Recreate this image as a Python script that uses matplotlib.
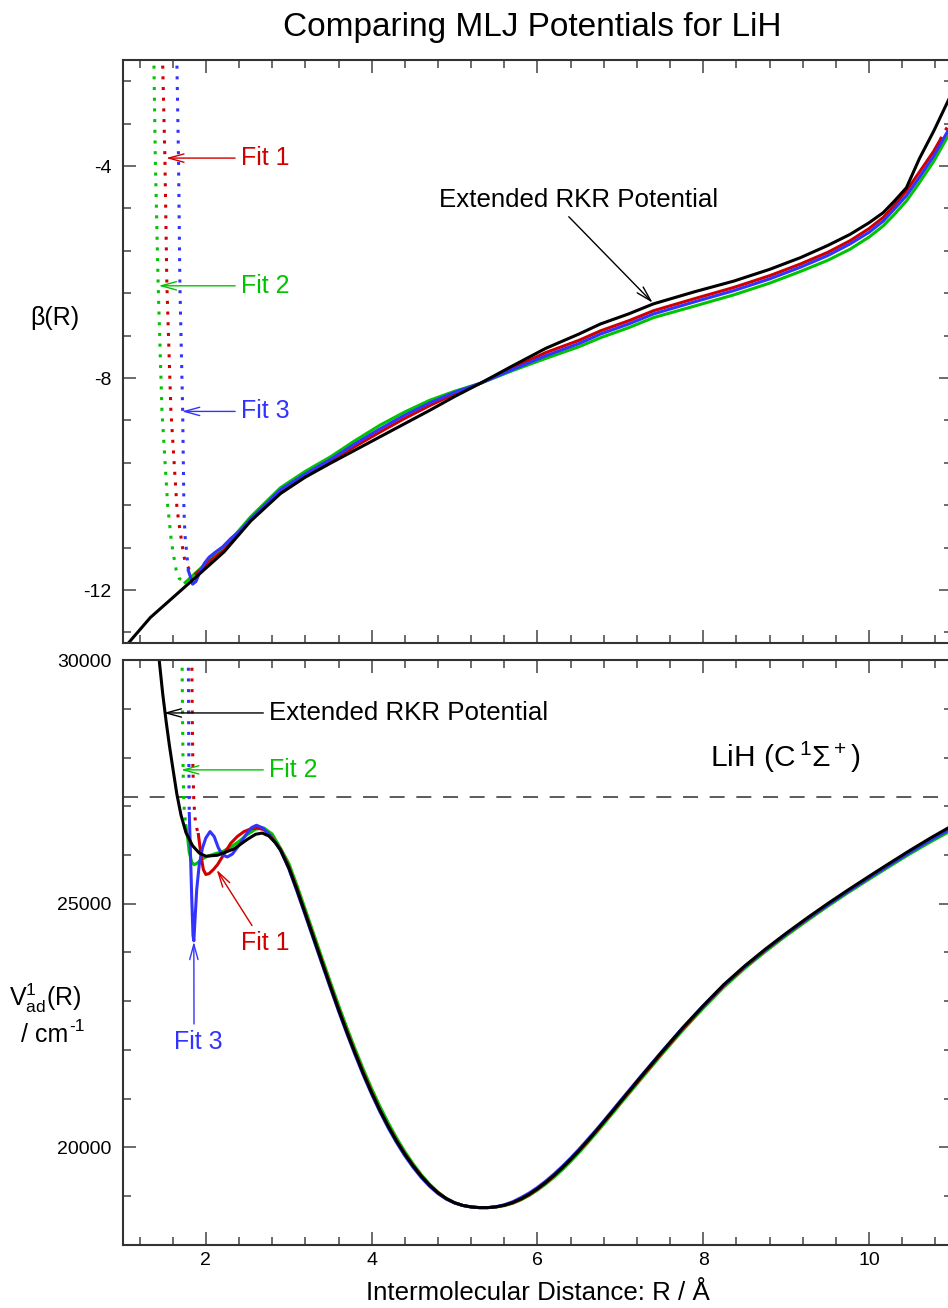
import matplotlib.pyplot as plt
from matplotlib.ticker import MultipleLocator, FormatStrFormatter

plt.rcParams['font.family'] = ['Liberation Sans', 'DejaVu Sans']
plt.rcParams['mathtext.fontset'] = 'custom'
plt.rcParams['mathtext.rm'] = 'Liberation Sans'
plt.rcParams['mathtext.it'] = 'Liberation Sans:italic'
plt.rcParams['mathtext.default'] = 'regular'
plt.rcParams['axes.unicode_minus'] = False

RED = '#d00000'
GREEN = '#00c400'
BLUE = '#3333ff'

# ---- beta(R) exponent function (upper panel) ----
R_rkr_beta = [1.0, 1.33, 1.82, 2.22, 2.54, 2.9, 3.2, 3.5, 3.8, 4.1, 4.4, 4.7, 5.0, 5.31, 5.7, 6.1,
              6.5, 6.76, 7.1, 7.4, 7.9, 8.37, 8.8, 9.17, 9.5, 9.77, 10.0, 10.17, 10.3, 10.45,
              10.61, 10.78, 10.95, 11.0]
beta_rkr = [-13.12, -12.52, -11.84, -11.28, -10.70, -10.18, -9.87, -9.61, -9.36, -9.11, -8.86,
            -8.61, -8.35, -8.10, -7.77, -7.44, -7.17, -6.98, -6.79, -6.60, -6.37, -6.17, -5.95,
            -5.73, -5.50, -5.29, -5.07, -4.88, -4.67, -4.41, -3.85, -3.34, -2.78, -2.62]

R_fit1_beta = [1.88, 1.95, 2.05, 2.22, 2.54, 2.9, 3.2, 3.5, 3.8, 4.1, 4.4, 4.7, 5.0, 5.31, 5.7,
               6.1, 6.5, 6.76, 7.1, 7.4, 7.9, 8.37, 8.8, 9.17, 9.5, 9.77, 10.0, 10.17, 10.3,
               10.45, 10.6, 10.78, 10.86]
beta_fit1 = [-11.69, -11.60, -11.45, -11.25, -10.68, -10.15, -9.85, -9.585, -9.29, -9.02, -8.76,
             -8.52, -8.30, -8.10, -7.81, -7.52, -7.29, -7.11, -6.92, -6.73, -6.50, -6.29, -6.07,
             -5.85, -5.63, -5.41, -5.18, -4.97, -4.75, -4.47, -4.13, -3.72, -3.50]
R_fit1_beta_sr = [1.475, 1.478, 1.506, 1.53, 1.578, 1.65, 1.67, 1.70, 1.715, 1.73, 1.75, 1.80, 1.88]
beta_fit1_sr = [-1.5, -2.0, -3.85, -6.26, -8.61, -10.42, -10.68, -11.0, -11.16, -11.31, -11.47,
                -11.61, -11.69]
R_fit1_beta_lr = [10.86, 10.93, 11.0]
beta_fit1_lr = [-3.50, -3.30, -3.12]

R_fit2_beta = [1.75, 1.82, 1.95, 2.1, 2.22, 2.54, 2.9, 3.2, 3.5, 3.8, 4.1, 4.4, 4.7, 5.0, 5.31,
               5.7, 6.1, 6.5, 6.76, 7.1, 7.4, 7.9, 8.37, 8.8, 9.17, 9.5, 9.77, 10.0, 10.17, 10.3,
               10.45, 10.6, 10.78, 10.95, 11.0]
beta_fit2 = [-11.86, -11.76, -11.57, -11.36, -11.20, -10.62, -10.07, -9.76, -9.49, -9.18, -8.89,
             -8.64, -8.42, -8.25, -8.10, -7.86, -7.63, -7.41, -7.24, -7.05, -6.86, -6.64, -6.43,
             -6.21, -5.99, -5.78, -5.57, -5.34, -5.13, -4.92, -4.66, -4.33, -3.91, -3.44, -3.30]
R_fit2_beta_sr = [1.37, 1.373, 1.39, 1.425, 1.47, 1.54, 1.558, 1.578, 1.606, 1.642, 1.678, 1.75]
beta_fit2_sr = [-1.5, -2.0, -3.85, -6.26, -8.61, -10.42, -10.68, -11.0, -11.31, -11.62, -11.78,
                -11.86]

R_fit3_beta = [1.79, 1.82, 1.84, 1.88, 1.92, 1.98, 2.04, 2.12, 2.20, 2.30, 2.42, 2.54, 2.9, 3.2,
               3.5, 3.8, 4.1, 4.4, 4.7, 5.0, 5.31, 5.7, 6.1, 6.5, 6.76, 7.1, 7.4, 7.9, 8.37, 8.8,
               9.17, 9.5, 9.77, 10.0, 10.17, 10.3, 10.45, 10.6, 10.78, 10.95, 11.0]
beta_fit3 = [-11.64, -11.78, -11.89, -11.84, -11.69, -11.50, -11.38, -11.28, -11.19, -11.03,
             -10.87, -10.66, -10.11, -9.81, -9.54, -9.24, -8.96, -8.70, -8.47, -8.27, -8.10,
             -7.84, -7.58, -7.35, -7.17, -6.98, -6.79, -6.56, -6.35, -6.13, -5.91, -5.69, -5.47,
             -5.25, -5.04, -4.82, -4.56, -4.23, -3.81, -3.34, -3.20]
R_fit3_beta_sr = [1.648, 1.65, 1.67, 1.687, 1.72, 1.735, 1.74, 1.75, 1.77, 1.78, 1.79]
beta_fit3_sr = [-1.5, -2.0, -3.85, -6.26, -8.61, -10.42, -10.68, -11.0, -11.31, -11.48, -11.64]

# ---- V_ad(R) potentials (lower panel), cm-1 ----
R_rkr_wall = [1.40, 1.44, 1.48, 1.52, 1.56, 1.60, 1.65, 1.70, 1.76, 1.84, 1.92, 2.00, 2.14, 2.34,
              2.50, 2.60, 2.68, 2.76, 2.84]
V_rkr_wall = [30750, 29950, 29300, 28750, 28250, 27800, 27250, 26820, 26460, 26190, 26040, 25975,
              25995, 26125, 26320, 26425, 26450, 26390, 26250]

R_tail = [2.9, 3.0, 3.1, 3.2, 3.3, 3.4, 3.5, 3.6, 3.7, 3.8, 3.9, 4.0, 4.1, 4.2, 4.3, 4.4, 4.5,
          4.6, 4.7, 4.8, 4.9, 5.0, 5.1, 5.2, 5.3, 5.4, 5.5, 5.6, 5.7, 5.8, 5.9, 6.0, 6.1, 6.2,
          6.3, 6.4, 6.5, 6.6, 6.7, 6.8, 6.9, 7.0, 7.25, 7.5, 7.75, 8.0, 8.25, 8.5, 8.75, 9.0,
          9.25, 9.5, 9.75, 10.0, 10.25, 10.5, 10.75, 11.0]
V_rkr_tail = [26100, 25740, 25280, 24790, 24295, 23800, 23310, 22830, 22370, 21930, 21510, 21120,
              20760, 20430, 20130, 19860, 19620, 19405, 19220, 19068, 18950, 18865, 18810, 18780,
              18766, 18766, 18782, 18815, 18870, 18945, 19040, 19155, 19285, 19430, 19588, 19758,
              19938, 20128, 20325, 20527, 20732, 20939, 21454, 21959, 22449, 22909, 23344, 23724,
              24070, 24395, 24705, 25002, 25287, 25563, 25835, 26102, 26358, 26600]
V_fit1_tail = [26120, 25760, 25300, 24810, 24315, 23820, 23330, 22850, 22390, 21950, 21530, 21140,
               20770, 20440, 20140, 19870, 19630, 19415, 19230, 19078, 18950, 18865, 18810, 18780,
               18766, 18766, 18782, 18815, 18860, 18935, 19030, 19145, 19275, 19420, 19578, 19748,
               19928, 20118, 20315, 20517, 20722, 20929, 21434, 21939, 22429, 22889, 23324, 23704,
               24050, 24375, 24680, 24977, 25262, 25538, 25805, 26072, 26328, 26565]
V_fit2_tail = [26140, 25830, 25370, 24880, 24385, 23890, 23400, 22920, 22460, 22020, 21600, 21205,
               20840, 20505, 20195, 19915, 19665, 19440, 19245, 19083, 18958, 18868, 18810, 18780,
               18766, 18766, 18777, 18805, 18855, 18925, 19015, 19125, 19250, 19390, 19543, 19713,
               19893, 20083, 20280, 20482, 20687, 20894, 21404, 21909, 22399, 22859, 23294, 23674,
               24020, 24345, 24650, 24947, 25232, 25503, 25770, 26032, 26278, 26510]
V_fit3_tail = [26100, 25720, 25250, 24760, 24265, 23770, 23280, 22800, 22340, 21900, 21480, 21090,
               20730, 20400, 20100, 19830, 19590, 19380, 19200, 19053, 18940, 18860, 18810, 18780,
               18766, 18766, 18782, 18825, 18885, 18970, 19065, 19180, 19310, 19455, 19613, 19783,
               19963, 20153, 20345, 20547, 20752, 20959, 21469, 21969, 22454, 22909, 23339, 23714,
               24058, 24380, 24685, 24977, 25259, 25533, 25800, 26062, 26313, 26550]

R_fit1_wall = [1.91, 1.93, 1.95, 1.97, 2.0, 2.04, 2.09, 2.14, 2.22, 2.30, 2.38, 2.46, 2.54, 2.62,
               2.70, 2.78, 2.84]
V_fit1_wall = [26420, 26150, 25900, 25700, 25600, 25620, 25700, 25800, 26020, 26240, 26380, 26480,
               26535, 26555, 26520, 26400, 26250]
R_fit2_wall = [1.76, 1.78, 1.80, 1.83, 1.86, 1.90, 1.95, 2.0, 2.1, 2.2, 2.3, 2.4, 2.5, 2.6, 2.7,
               2.8]
V_fit2_wall = [26600, 26350, 26050, 25850, 25800, 25840, 25910, 25960, 26020, 26070, 26160, 26280,
               26420, 26530, 26555, 26430]
R_fit3_wall = [1.80, 1.815, 1.83, 1.845, 1.855, 1.87, 1.89, 1.92, 1.96, 2.0, 2.05, 2.10, 2.15,
               2.20, 2.26, 2.32, 2.40, 2.48, 2.55, 2.61, 2.68, 2.76, 2.84]
V_fit3_wall = [26850, 26000, 25100, 24350, 24240, 24700, 25300, 25800, 26150, 26350, 26480, 26380,
               26150, 26000, 25960, 26020, 26200, 26410, 26560, 26610, 26560, 26420, 26250]

# extrapolated short-range branches
R_fit1_sr = [1.83, 1.833, 1.838, 1.845, 1.855, 1.87, 1.89, 1.91]
V_fit1_sr = [30500, 29500, 28500, 27700, 27100, 26750, 26550, 26420]
R_fit2_sr = [1.712, 1.715, 1.72, 1.725, 1.732, 1.742, 1.76]
V_fit2_sr = [30500, 29600, 28600, 27800, 27200, 26850, 26600]
R_fit3_sr = [1.788, 1.79, 1.793, 1.796, 1.80]
V_fit3_sr = [30500, 29500, 28500, 27600, 26850]

D_limit = 27200  # dissociation asymptote

fig = plt.figure(figsize=(9.48, 13.08), dpi=100)
ax1 = fig.add_axes([0.1297, 0.5084, 0.8745, 0.4457])
ax2 = fig.add_axes([0.1297, 0.0482, 0.8745, 0.4472])

LW = 2.2
DOT = (0, (1, 2.5))

# upper panel
ax1.plot(R_fit2_beta_sr, beta_fit2_sr, color=GREEN, lw=LW, ls=DOT)
ax1.plot(R_fit1_beta_sr, beta_fit1_sr, color=RED, lw=LW, ls=DOT)
ax1.plot(R_fit3_beta_sr, beta_fit3_sr, color=BLUE, lw=LW, ls=DOT)
ax1.plot(R_fit1_beta_lr, beta_fit1_lr, color=RED, lw=LW, ls=DOT)
ax1.plot(R_fit2_beta, beta_fit2, color=GREEN, lw=LW)
ax1.plot(R_fit1_beta, beta_fit1, color=RED, lw=LW)
ax1.plot(R_fit3_beta, beta_fit3, color=BLUE, lw=LW)
ax1.plot(R_rkr_beta, beta_rkr, color='black', lw=LW)

# lower panel
ax2.axhline(D_limit, color='#404040', lw=1.2, dashes=(9, 7))
ax2.plot(R_fit2_sr, V_fit2_sr, color=GREEN, lw=LW, ls=DOT)
ax2.plot(R_fit3_sr, V_fit3_sr, color=BLUE, lw=LW, ls=DOT)
ax2.plot(R_fit1_sr, V_fit1_sr, color=RED, lw=LW, ls=DOT)
ax2.plot(R_fit2_wall + R_tail, V_fit2_wall + V_fit2_tail, color=GREEN, lw=LW)
ax2.plot(R_fit1_wall + R_tail, V_fit1_wall + V_fit1_tail, color=RED, lw=LW)
ax2.plot(R_fit3_wall + R_tail, V_fit3_wall + V_fit3_tail, color=BLUE, lw=LW)
ax2.plot(R_rkr_wall + R_tail, V_rkr_wall + V_rkr_tail, color='black', lw=LW)

for ax in (ax1, ax2):
    for s in ax.spines.values():
        s.set_color('#333333')
        s.set_linewidth(1.5)
    ax.set_xlim(1, 11)
    ax.xaxis.set_major_locator(MultipleLocator(2))
    ax.xaxis.set_minor_locator(MultipleLocator(0.4))
    ax.tick_params(which='both', direction='in', top=True, right=True,
                   color='#444444', width=1.1, labelsize=14)
    ax.tick_params(which='major', length=9.5)
    ax.tick_params(which='minor', length=6)
    ax.tick_params(axis='y', pad=8)
    ax.tick_params(axis='x', pad=5)

ax1.set_ylim(-13, -2)
ax1.yaxis.set_major_locator(MultipleLocator(4))
ax1.yaxis.set_minor_locator(MultipleLocator(0.8))
ax1.tick_params(labelbottom=False)

ax2.set_ylim(18000, 30000)
ax2.yaxis.set_major_locator(MultipleLocator(5000))
ax2.yaxis.set_minor_locator(MultipleLocator(1000))
ax2.yaxis.set_major_formatter(FormatStrFormatter('%d'))


def arrow(color):
    return dict(arrowstyle='->,head_length=1.1,head_width=0.3', mutation_scale=10,
                color=color, lw=1.0, shrinkA=2, shrinkB=0)


# labels, upper panel
ax1.annotate('Fit 1', xy=(1.52, -3.85), xytext=(2.42, -3.85), color=RED, fontsize=18,
             ha='left', va='center', arrowprops=arrow(RED))
ax1.annotate('Fit 2', xy=(1.43, -6.26), xytext=(2.42, -6.26), color=GREEN, fontsize=18,
             ha='left', va='center', arrowprops=arrow(GREEN))
ax1.annotate('Fit 3', xy=(1.71, -8.63), xytext=(2.42, -8.63), color=BLUE, fontsize=18,
             ha='left', va='center', arrowprops=arrow(BLUE))
rkr_arrow = arrow('black')
rkr_arrow['relpos'] = (0.45, 0.0)
ax1.annotate('Extended RKR Potential', xy=(7.39, -6.58), xytext=(6.49, -4.64), color='black',
             fontsize=18.6, ha='center', va='center', arrowprops=rkr_arrow)

# labels, lower panel
ax2.annotate('Extended RKR Potential', xy=(1.49, 28914), xytext=(2.76, 28914), color='black',
             fontsize=18.6, ha='left', va='center', arrowprops=arrow('black'))
ax2.annotate('Fit 2', xy=(1.70, 27746), xytext=(2.76, 27746), color=GREEN, fontsize=18,
             ha='left', va='center', arrowprops=arrow(GREEN))
fit1_arrow = arrow(RED)
fit1_arrow['relpos'] = (0.3, 1.0)
ax2.annotate('Fit 1', xy=(2.13, 25697), xytext=(2.42, 24201), color=RED, fontsize=18,
             ha='left', va='center', arrowprops=fit1_arrow)
fit3_arrow = arrow(BLUE)
fit3_arrow['relpos'] = (0.41, 1.0)
ax2.annotate('Fit 3', xy=(1.855, 24222), xytext=(1.91, 22173), color=BLUE, fontsize=18,
             ha='center', va='center', arrowprops=fit3_arrow)
ax2.text(8.08, 27992, r'LiH (C$\,^1\Sigma^+$)', fontsize=21.5, ha='left', va='center')

fig.text(0.561, 0.979, 'Comparing MLJ Potentials for LiH', fontsize=24, ha='center', va='center')
fig.text(0.5675, 0.0113, 'Intermolecular Distance: R / Å', fontsize=18.6, ha='center',
         va='center')
fig.text(0.058, 0.757, 'β(R)', fontsize=18, ha='center', va='center')
fig.text(0.0475, 0.237, r'$V^1_{ad}$(R)', fontsize=18, ha='center', va='center')
fig.text(0.022, 0.2087, '/ cm', fontsize=18, ha='left', va='center')
fig.text(0.0735, 0.2155, '-1', fontsize=12.5, ha='left', va='center')

fig.savefig('out.png', dpi=100)
